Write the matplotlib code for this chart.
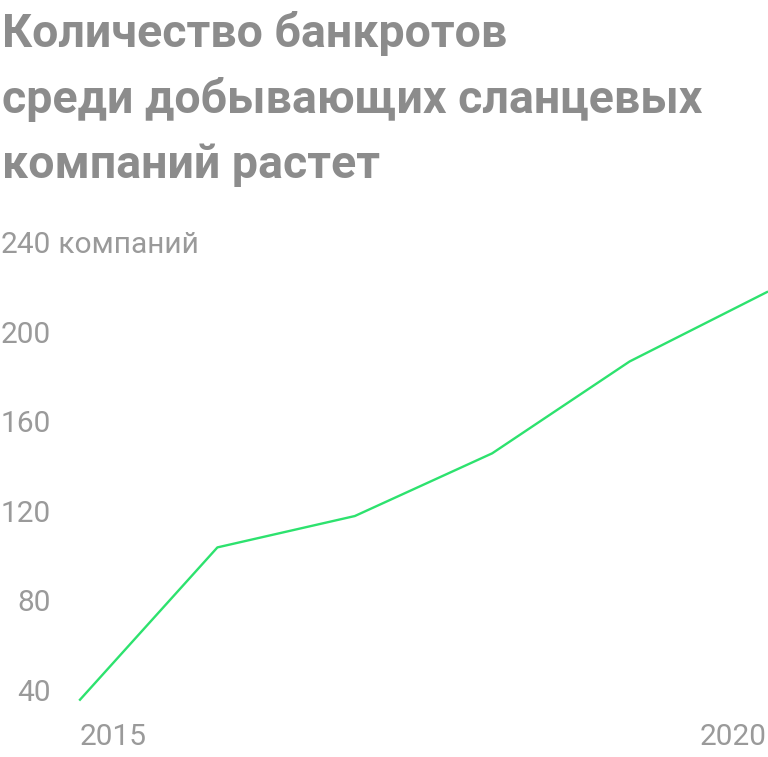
import matplotlib
matplotlib.use('Agg')
import matplotlib.pyplot as plt

# Number of bankrupt shale producers (cumulative)
years = [2015, 2016, 2017, 2018, 2019, 2020]
bankrupts = [37, 105, 119, 147, 188, 219]

y_ticks = [40, 80, 120, 160, 200, 240]
x_ticks = [2015, 2020]
title_lines = ['Количество банкротов',
               'среди добывающих сланцевых',
               'компаний растет']
unit_label = 'компаний'

W, H = 768, 757
fig = plt.figure(figsize=(W / 100, H / 100), dpi=100)
plt.rcParams['font.family'] = ['Roboto', 'DejaVu Sans']

# axes placed so that 2015..2020 -> x 80..767 px and 40..240 -> y 693..245 px
x0, x1 = 80, 767
y0, y1 = 693, 245
ax = fig.add_axes([x0 / W, (H - y0) / H, (x1 - x0) / W, (y0 - y1) / H])
ax.set_xlim(2015, 2020)
ax.set_ylim(40, 240)
ax.axis('off')

ax.plot(years, bankrupts, color='#2de26e', lw=1.7, clip_on=False,
        solid_joinstyle='round')

gray = '#9a9a9a'
fs = 21.5
for v in y_ticks:
    ax.annotate(str(v), xy=(0, v), xycoords=('axes fraction', 'data'),
                xytext=(51 - x0, 0), textcoords='offset pixels',
                ha='right', va='center', fontsize=fs, color=gray)
ax.annotate(' ' + unit_label, xy=(0, 240), xycoords=('axes fraction', 'data'),
            xytext=(51 - x0, 0), textcoords='offset pixels',
            ha='left', va='center', fontsize=fs, color=gray)

for yr in x_ticks:
    ha = 'left' if yr == x_ticks[0] else 'right'
    ax.annotate(str(yr), xy=(yr, 0), xycoords=('data', 'axes fraction'),
                xytext=(0, -(737 - y0)), textcoords='offset pixels',
                ha=ha, va='center', fontsize=fs, color=gray)

for i, line in enumerate(title_lines):
    fig.text(2 / W, 1 - (47 + i * 65.5) / H, line, ha='left', va='baseline',
             fontsize=33.5, fontweight='bold', color='#8c8c8c')

fig.savefig('out.png', dpi=100)
